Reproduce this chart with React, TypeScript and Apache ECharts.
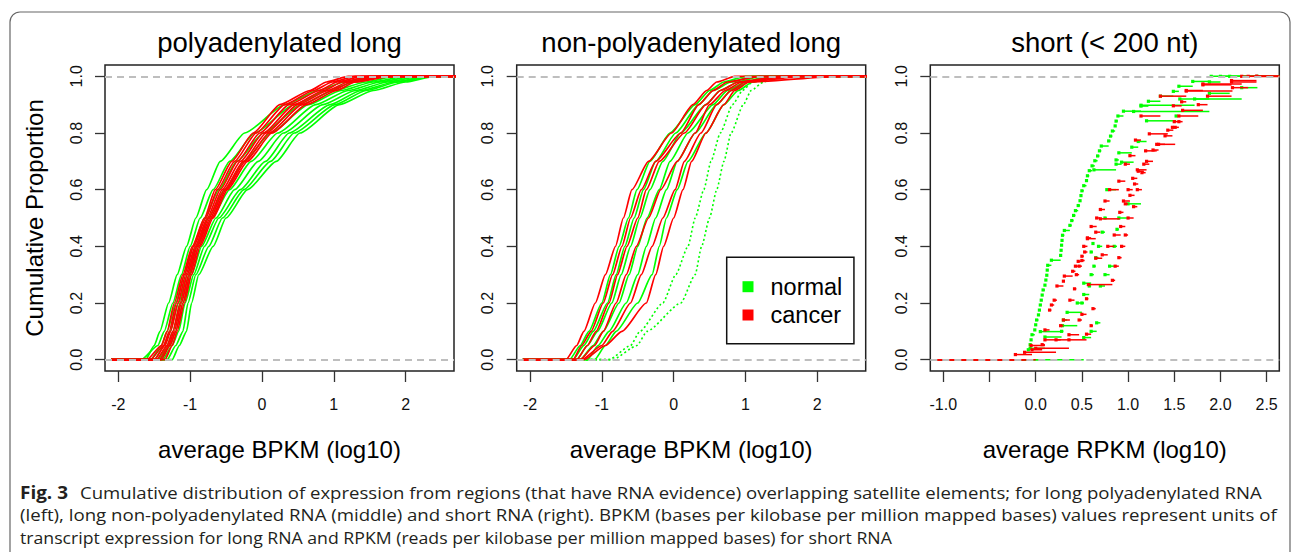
import React, { useEffect, useRef } from "react";
import * as echarts from "echarts";

// ---------- data ----------
const PROBS = [0, 0.05, 0.1, 0.2, 0.3, 0.4, 0.5, 0.6, 0.7, 0.8, 0.9, 0.95, 0.98, 1];

// panel 1: polyadenylated long (x at each PROBS level)
const P1_NORMAL = [
  [-1.62, -1.5, -1.42, -1.3, -1.18, -1.05, -0.92, -0.77, -0.58, -0.24, 0.32, 0.78, 1.15, 1.6],
  [-1.68, -1.45, -1.36, -1.24, -1.12, -1.0, -0.86, -0.68, -0.45, -0.1, 0.45, 0.9, 1.3, 1.7],
  [-1.55, -1.4, -1.32, -1.2, -1.08, -0.96, -0.8, -0.6, -0.35, 0.02, 0.55, 1.0, 1.45, 1.85],
  [-1.5, -1.36, -1.28, -1.16, -1.04, -0.92, -0.75, -0.52, -0.25, 0.12, 0.65, 1.1, 1.55, 2.0],
  [-1.45, -1.32, -1.24, -1.13, -1.01, -0.88, -0.7, -0.45, -0.15, 0.22, 0.75, 1.2, 1.65, 2.1],
  [-1.42, -1.28, -1.2, -1.1, -0.98, -0.84, -0.64, -0.38, -0.05, 0.3, 0.85, 1.3, 1.75, 2.2],
  [-1.38, -1.25, -1.16, -1.07, -0.95, -0.8, -0.6, -0.3, 0.05, 0.38, 0.95, 1.38, 1.85, 2.3],
  [-1.32, -1.2, -1.1, -1.03, -0.92, -0.74, -0.55, -0.25, 0.12, 0.45, 1.02, 1.45, 1.9, 2.35],
  [-1.25, -1.15, -1.05, -0.98, -0.88, -0.68, -0.5, -0.2, 0.2, 0.53, 1.08, 1.55, 2.0, 2.4],
];
const P1_CANCER = [
  [-1.6, -1.4, -1.32, -1.22, -1.1, -0.97, -0.8, -0.65, -0.42, -0.12, 0.25, 0.67, 0.9, 1.2],
  [-1.55, -1.37, -1.29, -1.19, -1.08, -0.95, -0.78, -0.62, -0.38, -0.08, 0.32, 0.72, 0.98, 1.3],
  [-1.5, -1.35, -1.27, -1.17, -1.06, -0.93, -0.76, -0.58, -0.34, -0.03, 0.38, 0.8, 1.05, 1.4],
  [-1.47, -1.32, -1.24, -1.14, -1.04, -0.91, -0.74, -0.55, -0.3, 0.02, 0.45, 0.86, 1.12, 1.5],
  [-1.43, -1.3, -1.22, -1.12, -1.02, -0.9, -0.72, -0.52, -0.26, 0.06, 0.5, 0.92, 1.2, 1.6],
  [-1.4, -1.28, -1.2, -1.1, -1.0, -0.88, -0.7, -0.5, -0.23, 0.1, 0.56, 0.98, 1.25, 1.7],
  [-1.35, -1.25, -1.18, -1.08, -0.98, -0.86, -0.68, -0.48, -0.2, 0.14, 0.62, 1.04, 1.3, 1.8],
];

// panel 2: non-polyadenylated long
const P2_NORMAL = [
  [-1.45, -1.3, -1.18, -1.0, -0.88, -0.76, -0.63, -0.51, -0.33, -0.05, 0.3, 0.5, 0.7, 1.0],
  [-1.4, -1.25, -1.12, -0.92, -0.8, -0.68, -0.55, -0.42, -0.25, 0.03, 0.35, 0.55, 0.8, 1.1],
  [-1.35, -1.2, -1.06, -0.86, -0.73, -0.6, -0.47, -0.33, -0.15, 0.1, 0.45, 0.65, 0.9, 1.2],
  [-1.3, -1.12, -0.98, -0.76, -0.62, -0.5, -0.37, -0.2, -0.05, 0.2, 0.55, 0.75, 1.0, 1.3],
  [-1.2, -1.05, -0.9, -0.66, -0.5, -0.38, -0.25, -0.1, 0.05, 0.3, 0.6, 0.8, 1.05, 1.35],
  [-1.1, -0.95, -0.8, -0.5, -0.3, -0.2, -0.1, 0.05, 0.2, 0.45, 0.7, 0.9, 1.1, 1.4],
];
const P2_NORMAL_SPARSE = [
  [-0.9, -0.6, -0.47, -0.15, 0.03, 0.2, 0.3, 0.42, 0.52, 0.65, 0.82, 0.96, 1.1, 1.4],
  [-0.85, -0.51, -0.37, 0.1, 0.3, 0.39, 0.5, 0.6, 0.7, 0.8, 0.97, 1.08, 1.25, 1.45],
];
const P2_CANCER = [
  [-1.5, -1.35, -1.25, -1.09, -0.95, -0.81, -0.7, -0.58, -0.35, -0.03, 0.27, 0.46, 0.6, 0.85],
  [-1.4, -1.28, -1.15, -0.98, -0.85, -0.72, -0.6, -0.45, -0.25, 0.1, 0.35, 0.55, 0.75, 1.2],
  [-1.35, -1.2, -1.08, -0.9, -0.78, -0.65, -0.5, -0.38, -0.2, 0.15, 0.45, 0.65, 0.9, 1.5],
  [-1.3, -1.1, -0.98, -0.8, -0.66, -0.52, -0.35, -0.18, 0.05, 0.3, 0.5, 0.72, 0.95, 1.6],
  [-1.28, -1.0, -0.85, -0.6, -0.45, -0.3, -0.15, 0.02, 0.15, 0.38, 0.6, 0.8, 1.0, 1.8],
  [-1.25, -0.95, -0.72, -0.38, -0.25, -0.14, 0.0, 0.13, 0.25, 0.45, 0.7, 0.85, 1.05, 2.3],
];

// panel 3: short RNA, ECDF step points [x, cumulative proportion]
const P3_NORMAL = [
  [[-0.08, 0.035], [-0.06, 0.053], [-0.05, 0.07], [-0.04, 0.088], [-0.01, 0.105], [0.0, 0.123], [0.01, 0.14], [0.03, 0.158], [0.04, 0.175], [0.05, 0.193], [0.06, 0.21], [0.07, 0.228], [0.08, 0.246], [0.1, 0.263], [0.11, 0.281], [0.12, 0.298], [0.125, 0.316], [0.13, 0.333], [0.17, 0.351], [0.27, 0.368], [0.275, 0.386], [0.28, 0.404], [0.285, 0.421], [0.29, 0.439], [0.31, 0.456], [0.37, 0.474], [0.39, 0.491], [0.41, 0.509], [0.43, 0.526], [0.46, 0.544], [0.48, 0.561], [0.49, 0.579], [0.5, 0.596], [0.52, 0.614], [0.55, 0.632], [0.56, 0.649], [0.58, 0.667], [0.61, 0.684], [0.64, 0.702], [0.67, 0.719], [0.69, 0.737], [0.71, 0.754], [0.79, 0.772], [0.81, 0.789], [0.83, 0.807], [0.86, 0.825], [0.87, 0.842], [0.89, 0.86], [0.95, 0.877], [1.14, 0.895], [1.22, 0.912], [1.35, 0.93], [1.49, 0.947], [1.55, 0.965], [1.7, 0.982], [1.9, 1.0]],
  [[-0.06, 0.04], [0.1, 0.08], [0.28, 0.1], [0.3, 0.14], [0.34, 0.167], [0.5, 0.2], [0.52, 0.27], [0.6, 0.3], [0.63, 0.33], [0.65, 0.36], [0.68, 0.4], [0.72, 0.45], [0.75, 0.5], [0.77, 0.6], [0.87, 0.705], [0.9, 0.73], [1.04, 0.75], [1.11, 0.77], [1.2, 0.843], [1.52, 0.86], [1.56, 0.92], [2.23, 0.96], [2.4, 1.0]],
  [[0.05, 0.099], [0.29, 0.12], [0.45, 0.2], [0.52, 0.23], [0.58, 0.26], [0.6, 0.38], [0.62, 0.41], [0.63, 0.67], [0.87, 0.69], [0.93, 0.697], [1.06, 0.876], [1.88, 0.98], [2.0, 1.0]],
  [[0.52, 0.078], [0.6, 0.1], [0.66, 0.13], [0.7, 0.26], [0.75, 0.3], [0.8, 0.33], [0.85, 0.4], [0.88, 0.46], [0.9, 0.5], [1.0, 0.55], [1.14, 0.898], [1.72, 0.92], [1.88, 0.94], [2.1, 1.0]],
];
const P3_CANCER = [
  [[-0.22, 0.018], [-0.04, 0.035], [0.07, 0.053], [0.1, 0.105], [0.15, 0.175], [0.17, 0.193], [0.2, 0.21], [0.23, 0.26], [0.3, 0.277], [0.31, 0.295], [0.4, 0.312], [0.43, 0.33], [0.46, 0.347], [0.5, 0.365], [0.52, 0.4], [0.56, 0.43], [0.6, 0.47], [0.66, 0.5], [0.7, 0.53], [0.75, 0.56], [0.8, 0.6], [0.9, 0.63], [0.97, 0.69], [1.02, 0.72], [1.08, 0.775], [1.14, 0.86], [1.35, 0.93], [1.63, 0.95], [1.81, 0.97], [2.12, 0.985], [2.39, 1.0]],
  [[-0.12, 0.026], [0.22, 0.07], [0.36, 0.088], [0.47, 0.14], [0.5, 0.16], [0.55, 0.215], [0.57, 0.265], [0.83, 0.28], [0.86, 0.33], [0.9, 0.36], [0.93, 0.4], [0.97, 0.44], [1.0, 0.5], [1.06, 0.54], [1.1, 0.6], [1.15, 0.66], [1.19, 0.737], [1.31, 0.76], [1.51, 0.82], [1.55, 0.84], [1.59, 0.88], [1.81, 0.973], [2.23, 1.0]],
  [[-0.05, 0.05], [0.1, 0.07], [0.27, 0.12], [0.3, 0.14], [0.37, 0.21], [0.42, 0.25], [0.44, 0.3], [0.47, 0.33], [0.5, 0.35], [0.53, 0.38], [0.56, 0.427], [0.65, 0.45], [0.7, 0.497], [0.91, 0.52], [0.95, 0.56], [1.02, 0.58], [1.07, 0.62], [1.11, 0.665], [1.17, 0.69], [1.23, 0.797], [1.43, 0.81], [1.49, 0.896], [1.58, 0.91], [1.63, 0.948], [2.13, 0.96], [2.3, 1.0]],
  [[0.0, 0.04], [0.36, 0.07], [0.55, 0.09], [0.6, 0.12], [0.62, 0.18], [0.65, 0.358], [0.72, 0.37], [0.78, 0.4], [0.85, 0.44], [0.92, 0.47], [0.97, 0.55], [1.0, 0.6], [1.05, 0.64], [1.1, 0.67], [1.2, 0.7], [1.27, 0.74], [1.33, 0.76], [1.4, 0.79], [1.48, 0.82], [1.5, 0.84], [1.55, 0.86], [1.76, 0.9], [1.86, 0.93], [2.12, 0.98], [2.39, 1.0]],
];

const TITLES = ["polyadenylated long", "non-polyadenylated long", "short (< 200 nt)"];
const X_NAMES = ["average BPKM (log10)", "average BPKM (log10)", "average RPKM (log10)"];
const Y_NAME = "Cumulative Proportion";
const Y_TICKS = [0, 0.2, 0.4, 0.6, 0.8, 1.0];
const X_TICKS_LONG = [-2, -1, 0, 1, 2];
const X_TICKS_SHORT = [-1, -0.5, 0, 0.5, 1, 1.5, 2, 2.5];
const X_LABELS_SHORT = [-1, 0, 0.5, 1, 1.5, 2, 2.5];
const LEGEND_NAMES = ["normal", "cancer"];
const CAPTION_BOLD = "Fig. 3";
const CAPTION_LINES = [
  "Cumulative distribution of expression from regions (that have RNA evidence) overlapping satellite elements; for long polyadenylated RNA",
  "(left), long non-polyadenylated RNA (middle) and short RNA (right). BPKM (bases per kilobase per million mapped bases) values represent units of",
  "transcript expression for long RNA and RPKM (reads per kilobase per million mapped bases) for short RNA",
];

// ---------- styling / layout ----------
const GREEN = "#00ff00";
const RED = "#ff0000";
const GRAY = "#bebebe";
const FONT = "'Liberation Sans', Arial, sans-serif";
const GRIDS = [
  { left: 105, top: 65, width: 349, height: 306 },
  { left: 516.7, top: 65, width: 349, height: 306 },
  { left: 930.3, top: 65, width: 349, height: 306 },
];
const X_RANGES = [
  [-2.185, 2.674],
  [-2.185, 2.674],
  [-1.141, 2.637],
];
const LONG_EXT_LEFT = -2.1;
const SHORT_EXT_LEFT = -1.1;

function measureScale(text: string, font: string, target: number) {
  const c = document.createElement("canvas").getContext("2d");
  if (!c) return 1;
  c.font = font;
  const w = c.measureText(text).width;
  return w > 0 ? target / w : 1;
}

function buildOption() {
  const series: any[] = [];

  const longCurve = (xs: number[], g: number, color: string, name: string, dotted = false) => {
    const data: number[][] = [[LONG_EXT_LEFT, 0]];
    xs.forEach((x, i) => data.push([x, PROBS[i]]));
    data.push([X_RANGES[g][1] + 0.2, 1]);
    series.push({
      type: "line",
      name,
      xAxisIndex: g,
      yAxisIndex: g,
      data,
      showSymbol: false,
      symbol: "none",
      smooth: 0.2,
      smoothMonotone: "x",
      clip: true,
      silent: true,
      z: 2,
      itemStyle: { color },
      lineStyle: { color, width: dotted ? 1.6 : 1.7, type: dotted ? [2, 2.5] : "solid" },
    });
  };

  P1_NORMAL.forEach((c) => longCurve(c, 0, GREEN, "normal"));
  P1_CANCER.forEach((c) => longCurve(c, 0, RED, "cancer"));
  P2_NORMAL.forEach((c) => longCurve(c, 1, GREEN, "normal"));
  P2_NORMAL_SPARSE.forEach((c) => longCurve(c, 1, GREEN, "normal", true));
  P2_CANCER.forEach((c) => longCurve(c, 1, RED, "cancer"));

  const stepCurve = (pts: number[][], color: string, name: string) => {
    const data: number[][] = [[SHORT_EXT_LEFT, pts[0][0], 0, 0]];
    pts.forEach((p, i) => {
      const next = i < pts.length - 1 ? pts[i + 1][0] : X_RANGES[2][1] + 0.2;
      data.push([p[0], next, p[1], 1]);
    });
    series.push({
      type: "custom",
      name,
      xAxisIndex: 2,
      yAxisIndex: 2,
      data,
      silent: true,
      z: 2,
      itemStyle: { color },
      encode: { x: [0, 1], y: 2 },
      renderItem: (params: any, api: any) => {
        const cs = params.coordSys;
        const y = api.value(2);
        const p1 = api.coord([api.value(0), y]);
        const p2 = api.coord([api.value(1), y]);
        const xl = Math.max(cs.x, p1[0]);
        const xr = Math.min(cs.x + cs.width, p2[0]);
        const children: any[] = [];
        if (xr > xl) {
          children.push({
            type: "line",
            shape: { x1: xl, y1: p1[1], x2: xr, y2: p1[1] },
            style: { stroke: color, lineWidth: 1.5 },
          });
        }
        if (api.value(3) === 1) {
          children.push({
            type: "rect",
            shape: { x: p1[0] - 1.6, y: p1[1] - 1.6, width: 3.2, height: 3.2 },
            style: { fill: color },
          });
        }
        return { type: "group", children };
      },
    });
  };
  P3_NORMAL.forEach((c) => stepCurve(c, GREEN, "normal"));
  P3_CANCER.forEach((c) => stepCurve(c, RED, "cancer"));

  // dashed reference lines at 0 and 1
  [0, 1, 2].forEach((g) => {
    series.push({
      type: "line",
      name: "ref" + g,
      xAxisIndex: g,
      yAxisIndex: g,
      data: [],
      silent: true,
      z: 6,
      markLine: {
        silent: true,
        symbol: ["none", "none"],
        label: { show: false },
        lineStyle: { color: GRAY, type: [7, 5], width: 2 },
        data: [{ yAxis: 0 }, { yAxis: 1 }],
        z: 6,
      },
    });
  });

  const xAxis = [0, 1, 2].map((g) => ({
    type: "value",
    gridIndex: g,
    min: X_RANGES[g][0],
    max: X_RANGES[g][1],
    position: "bottom",
    name: X_NAMES[g],
    nameLocation: "middle",
    nameGap: 66,
    nameTextStyle: { fontFamily: FONT, fontSize: 24, color: "#000" },
    axisLine: { show: false, onZero: false },
    splitLine: { show: false },
    axisTick: {
      show: true,
      length: 11,
      lineStyle: { color: "#333", width: 1.3 },
      customValues: g === 2 ? X_TICKS_SHORT : X_TICKS_LONG,
    },
    axisLabel: {
      margin: 25,
      fontFamily: FONT,
      fontSize: 16,
      color: "#111",
      customValues: g === 2 ? X_LABELS_SHORT : X_TICKS_LONG,
      formatter: (v: number) => (g === 2 ? v.toFixed(1) : String(v)),
    },
  }));

  const yAxis = [0, 1, 2].map((g) => ({
    type: "value",
    gridIndex: g,
    min: -0.04,
    max: 1.04,
    position: "left",
    name: g === 0 ? Y_NAME : "",
    nameLocation: "middle",
    nameRotate: 90,
    nameGap: 59,
    nameTextStyle: { fontFamily: FONT, fontSize: 24, color: "#000" },
    axisLine: { show: false, onZero: false },
    splitLine: { show: false },
    axisTick: {
      show: true,
      length: 10,
      lineStyle: { color: "#333", width: 1.3 },
      customValues: Y_TICKS,
    },
    axisLabel: {
      rotate: 90,
      margin: 21,
      fontFamily: FONT,
      fontSize: 16,
      color: "#111",
      customValues: Y_TICKS,
      formatter: (v: number) => v.toFixed(1),
    },
  }));

  const capFont = "17px 'Open Sans'";
  const capBoldFont = "bold 17px 'Open Sans'";
  const capTargets = [
    { x: 80, w: 1182, y: 492 },
    { x: 20, w: 1258, y: 514 },
    { x: 20, w: 873, y: 537 },
  ];

  const graphic: any[] = [
    {
      type: "rect",
      shape: { x: 10, y: 12, width: 1280, height: 620, r: 10 },
      style: { fill: "none", stroke: "#666", lineWidth: 1.2 },
      silent: true,
      z: 0,
    },
    ...TITLES.map((t, g) => ({
      type: "text",
      x: GRIDS[g].left + GRIDS[g].width / 2,
      y: 42,
      style: {
        text: t,
        fontFamily: FONT,
        fontSize: 27.5,
        fill: "#000",
        textAlign: "center",
        textVerticalAlign: "middle",
      },
      silent: true,
    })),
    {
      type: "text",
      x: 20,
      y: 492,
      scaleX: measureScale(CAPTION_BOLD, capBoldFont, 48),
      style: {
        text: CAPTION_BOLD,
        font: capBoldFont,
        fill: "#231f20",
        textVerticalAlign: "middle",
      },
      silent: true,
    },
    ...CAPTION_LINES.map((t, i) => ({
      type: "text",
      x: capTargets[i].x,
      y: capTargets[i].y,
      scaleX: measureScale(t, capFont, capTargets[i].w),
      style: {
        text: t,
        font: capFont,
        fill: "#231f20",
        textVerticalAlign: "middle",
      },
      silent: true,
    })),
  ];

  return {
    animation: false,
    backgroundColor: "#fff",
    grid: GRIDS.map((g) => ({
      ...g,
      show: true,
      borderColor: "#222",
      borderWidth: 1.5,
      backgroundColor: "transparent",
      containLabel: false,
    })),
    xAxis,
    yAxis,
    legend: {
      data: LEGEND_NAMES.map((n) => ({
        name: n,
        icon: "rect",
        itemStyle: { color: n === "normal" ? GREEN : RED, borderWidth: 0 },
      })),
      orient: "vertical",
      left: 726.7,
      top: 257.3,
      padding: [17.4, 11.6, 16.7, 15.8],
      itemWidth: 11,
      itemHeight: 11,
      itemGap: 4.3,
      selectedMode: false,
      backgroundColor: "#fff",
      borderColor: "#111",
      borderWidth: 1.5,
      z: 10,
      textStyle: {
        fontFamily: FONT,
        fontSize: 23.5,
        lineHeight: 24,
        color: "#000",
        padding: [0, 0, 0, 12],
      },
    },
    graphic,
    series,
  };
}

export default function App() {
  const ref = useRef<HTMLDivElement>(null);
  useEffect(() => {
    if (!ref.current) return;
    const chart = echarts.init(ref.current, null, { renderer: "svg" });
    chart.setOption(buildOption());
    return () => chart.dispose();
  }, []);
  return (
    <div
      ref={ref}
      style={{ position: "fixed", left: 0, top: 0, width: 1293, height: 552, background: "#fff" }}
    />
  );
}
